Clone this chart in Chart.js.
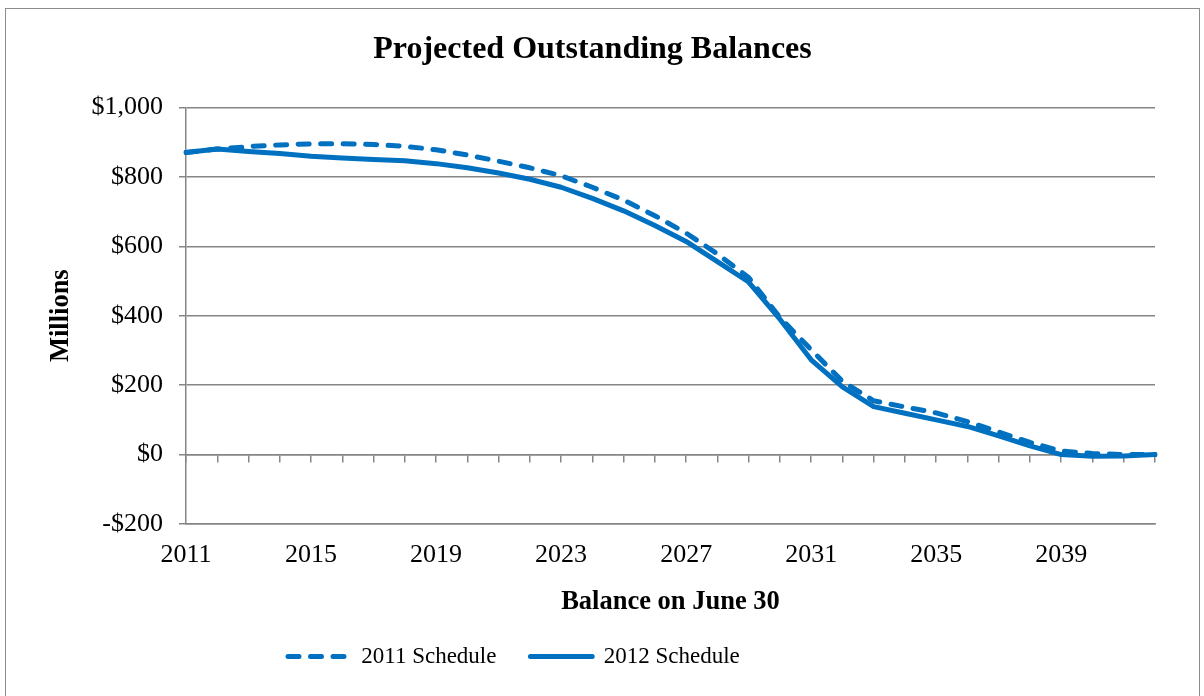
<!DOCTYPE html>
<html>
<head>
<meta charset="utf-8">
<script src="https://cdn.jsdelivr.net/npm/chart.js@4.4.1/dist/chart.umd.min.js"></script>
<style>
  html, body { margin: 0; padding: 0; background: #fff; }
  #wrap { position: relative; width: 1204px; height: 696px; }
  #frame { position: absolute; left: 5px; top: 8px; right: 4px; height: 700px; border: 1.5px solid #8c8c8c; box-sizing: border-box; pointer-events: none; }
</style>
</head>
<body>
<div id="wrap">
  <canvas id="chart"></canvas>
  <div id="frame"></div>
</div>
<script>
// values, $ millions, balance on June 30
const years = ['2011','2012','2013','2014','2015','2016','2017','2018','2019','2020',
  '2021','2022','2023','2024','2025','2026','2027','2028','2029','2030',
  '2031','2032','2033','2034','2035','2036','2037','2038','2039','2040','2041','2042'];
const schedule2011 = [870, 880, 887, 892, 895, 895, 893, 888, 878, 863,
  845, 826, 803, 770, 733, 688, 638, 578, 510, 395,
  302, 211, 155, 137, 120, 95, 65, 35, 10, 3, 0, 0];
const schedule2012 = [870, 880, 873, 867, 859, 854, 850, 846, 838, 826,
  811, 793, 770, 738, 702, 660, 614, 556, 497, 390,
  273, 195, 138, 119, 100, 81, 54, 25, 0, -5, -4, 0];
const yTicks = [-200, 0, 200, 400, 600, 800, 1000];

const blue = '#0070C0';
const gray = '#868686';
const serif = "'Liberation Serif', 'Times New Roman', serif";

function money(v) {
  const s = '$' + Math.abs(v).toLocaleString('en-US');
  return v < 0 ? '-' + s : s;
}

// move the legend so it starts where the reference has it
const legendShift = {
  id: 'legendShift',
  afterLayout(chart) {
    const lg = chart.legend;
    if (lg) { lg.left = 254; lg.right = 1204; }
  }
};

new Chart(document.getElementById('chart'), {
  type: 'line',
  data: {
    labels: years,
    datasets: [
      {
        label: '2011 Schedule',
        data: schedule2011,
        borderColor: blue,
        backgroundColor: blue,
        borderWidth: 5,
        borderDash: [11, 11.5],
        borderCapStyle: 'round',
        borderJoinStyle: 'round',
        pointRadius: 0,
        tension: 0
      },
      {
        label: '2012 Schedule',
        data: schedule2012,
        borderColor: blue,
        backgroundColor: blue,
        borderWidth: 5,
        borderCapStyle: 'round',
        borderJoinStyle: 'round',
        pointRadius: 0,
        tension: 0
      }
    ]
  },
  options: {
    responsive: true,
    maintainAspectRatio: false,
    animation: false,
    layout: { padding: { left: 30, right: 49, top: 0, bottom: 18 } },
    plugins: {
      title: {
        display: true,
        text: 'Projected Outstanding Balances',
        color: '#000',
        font: { family: serif, size: 32, weight: 'bold' },
        padding: { top: 31, bottom: 38 }
      },
      legend: {
        position: 'bottom',
        align: 'start',
        labels: {
          color: '#000',
          font: { family: serif, size: 23 },
          boxWidth: 61.75,
          boxHeight: 0,
          padding: 34
        }
      },
      tooltip: { enabled: false }
    },
    scales: {
      x: {
        type: 'category',
        offset: false,
        afterFit(scale) { scale.height = 87; },
        grid: { display: false, drawTicks: false },
        border: { display: true, color: gray, width: 1.5 },
        ticks: {
          autoSkip: false,
          maxRotation: 0,
          padding: 16,
          color: '#000',
          font: { family: serif, size: 26 },
          callback(val, i) { return i % 4 === 0 ? years[i] : ''; }
        },
        title: {
          display: true,
          text: 'Balance on June 30',
          color: '#000',
          font: { family: serif, size: 26.5, weight: 'bold' },
          padding: { top: 0, bottom: -7 }
        }
      },
      x2: {
        type: 'category',
        position: { y: 0 },
        offset: false,
        grid: { drawOnChartArea: false, tickLength: 7, color: gray, lineWidth: 1.5 },
        border: { display: true, color: gray, width: 1.5 },
        ticks: { display: false, autoSkip: false }
      },
      y: {
        min: -200,
        max: 1000,
        afterFit(scale) { scale.width = 156; },
        afterBuildTicks(scale) { scale.ticks = yTicks.map(v => ({ value: v })); },
        grid: { color: gray, lineWidth: 1.5, tickLength: 7 },
        border: { display: true, color: gray, width: 1.5 },
        ticks: {
          padding: 16,
          color: '#000',
          font: { family: serif, size: 26 },
          callback: money
        },
        title: {
          display: true,
          text: 'Millions',
          color: '#000',
          font: { family: serif, size: 26.5, weight: 'bold' },
          padding: { top: 15, bottom: 0 }
        }
      }
    }
  },
  plugins: [legendShift]
});
</script>
</body>
</html>
